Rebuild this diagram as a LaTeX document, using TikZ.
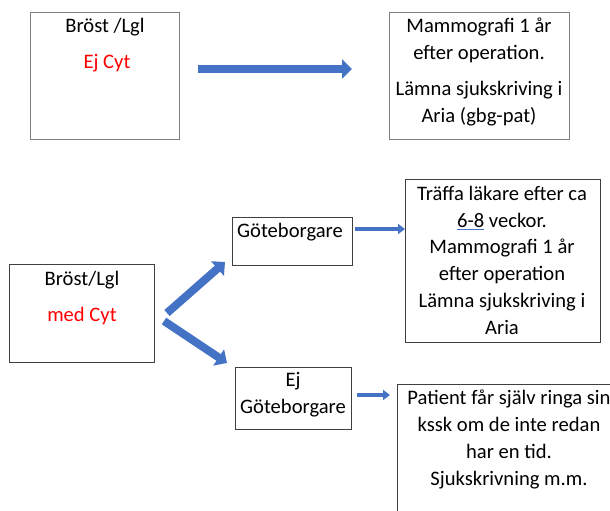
\documentclass[tikz,border=0pt]{standalone}
\usepackage{fontspec}
\setmainfont{Carlito}
\usetikzlibrary{arrows.meta}

\definecolor{arrowblue}{HTML}{4472C4}
\definecolor{framegray}{HTML}{7F7F7F}
\definecolor{framedark}{HTML}{3F3F3F}

\tikzset{
	boxframe/.style={draw=framedark, line width=1.3pt, fill=white, inner sep=0pt, anchor=north west},
	txt/.style={inner sep=0pt, align=center, font=\fontsize{20.6pt}{26.7pt}\selectfont},
	bigarrow/.style={arrowblue, line width=8pt, -{Triangle[width=19pt,length=10pt]}},
	smallarrow/.style={arrowblue, line width=4.5pt, -{Triangle[width=10pt,length=7pt]}}
}

\begin{document}
\begin{tikzpicture}[x=1pt, y=-1pt]
	\useasboundingbox (0,0) rectangle (610,511);
	
	% upper row, no cytology
	\node[boxframe, draw=framegray, minimum width=149pt, minimum height=127pt] (brostA) at (30,12) {};
	\node[txt, anchor=base] (brostAhead) at (105,33) {Bröst /Lgl};
	\node[txt, anchor=base, text=red] (ejcyt) at (107,69) {Ej Cyt};
	
	\node[boxframe, draw=framegray, minimum width=180pt, minimum height=127pt] (mammoA) at (389,12) {};
	% base of a multi-line node is its last line
	\node[txt, anchor=base] (mammoAtext) at (479,122)
		{Mammografi 1 år\\ efter operation.\\[9pt] Lämna sjukskriving i\\ Aria (gbg-pat)};
	
	% arrow top
	\coordinate (TA) at (198,69);
	\coordinate (TB) at (352,69);
	\draw[bigarrow] (TA) -- (TB);
	
	% lower part, with cytology
	\node[boxframe, minimum width=145pt, minimum height=98pt] (brostB) at (9,264) {};
	\node[txt, anchor=base] (brostBhead) at (82,285) {Bröst/Lgl};
	\node[txt, anchor=base, text=red] (medcyt) at (82,321) {med Cyt};
	
	\node[boxframe, minimum width=120pt, minimum height=48pt] (gbg) at (232,217) {};
	\node[txt, anchor=base] (gbgtext) at (290,237) {Göteborgare};
	
	\node[boxframe, minimum width=116pt, minimum height=62pt] (ejgbg) at (235,367) {};
	\node[txt, anchor=base] (ejgbgtext) at (293,413) {Ej\\ Göteborgare};
	
	\node[boxframe, minimum width=195pt, minimum height=163pt] (gbgres) at (405,179) {};
	\node[txt, anchor=base] (gbgrestext) at (502,334)
		{Träffa läkare efter ca\\ {\color{arrowblue}\underline{\textcolor{black}{6-8}}} veckor.\\ Mammografi 1 år\\ efter operation\\ Lämna sjukskriving i\\ Aria};
	
	\node[boxframe, minimum width=224pt, minimum height=150pt] (ejres) at (397,384) {};
	\node[txt, anchor=base] (ejrestext) at (509,485)
		{Patient får själv ringa sin\\ kssk om de inte redan\\ har en tid.\\ Sjukskrivning m.m.};
	
	% split arrows
	\coordinate (UA) at (167,313);
	\coordinate (UB) at (225,262);
	\coordinate (DA) at (164,321);
	\coordinate (DB) at (227,363);
	\draw[bigarrow] (UA) -- (UB);
	\draw[bigarrow] (DA) -- (DB);
	
	% arrows to the results
	\coordinate (GA) at (355,229);
	\coordinate (GB) at (405,229);
	\draw[smallarrow] (GA) -- (GB);
	\coordinate (EA) at (357,395);
	\coordinate (EB) at (390,395);
	\draw[smallarrow] (EA) -- (EB);
\end{tikzpicture}
\end{document}
